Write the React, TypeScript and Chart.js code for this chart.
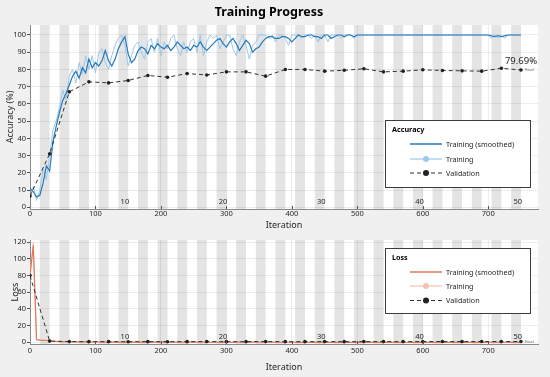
import React, { useEffect, useRef } from 'react';
import { Chart, registerables } from 'chart.js';

Chart.register(...registerables);

const FONT = '"Noto Sans", "DejaVu Sans", sans-serif';
const TEXT = '#262626';
const GRID = 'rgba(0,0,0,0.07)';
const AXIS = '#8a8a8a';
const STRIPE = '#e4e4e4';

const ITERS_PER_EPOCH = 15;
const NUM_EPOCHS = 50;
const TRAIN_STEP = 5;
const VAL_STEP = 30;
const X_MAX = 776;

const xTicks = [0, 100, 200, 300, 400, 500, 600, 700];
const accTicks = [0, 10, 20, 30, 40, 50, 60, 70, 80, 90, 100];
const lossTicks = [0, 20, 40, 60, 80, 100, 120];
const epochMarks = [10, 20, 30, 40, 50];
const finalAccuracyText = '79.69%';
const finalText = 'Final';

// accuracy, every 5 iterations from 0 to 750
const accSmoothed = [
  11, 9, 6, 7, 14, 24, 21, 38, 47, 55,
  62, 66, 71, 76, 79, 75, 81, 78, 86, 81,
  84, 82, 85, 91, 85, 82, 86, 92, 96, 99,
  89, 84, 86, 91, 93, 92, 89, 94, 92, 95,
  93, 92, 94, 91, 93, 96, 94, 92, 93, 91,
  94, 93, 96, 93, 91, 93, 95, 97, 98, 95,
  93, 96, 98, 95, 91, 94, 97, 95, 90, 92,
  93, 96, 98, 99, 99, 98, 98, 99, 99, 98,
  96, 98, 100, 99, 99, 100, 100, 99, 99, 98,
  100, 100, 98, 99, 100, 100, 99, 100, 100, 99,
  100, 100, 100, 100, 100, 100, 100, 100, 100, 100,
  100, 100, 100, 100, 100, 100, 100, 100, 100, 100,
  100, 100, 100, 100, 100, 100, 100, 100, 100, 100,
  100, 100, 100, 100, 100, 100, 100, 100, 100, 100,
  100, 99.5, 99, 99.6, 99, 99.5, 100, 100, 100, 100,
  100,
];

const accTraining = [
  6, 12, 4, 10, 22, 16, 30, 45, 50, 58,
  68, 62, 76, 80, 72, 84, 77, 88, 80, 88,
  78, 90, 92, 84, 80, 88, 94, 98, 100, 94,
  82, 88, 94, 96, 90, 86, 96, 98, 90, 98,
  88, 96, 92, 98, 100, 92, 88, 96, 90, 96,
  98, 90, 100, 88, 96, 100, 98, 100, 92, 96,
  100, 100, 92, 88, 96, 100, 94, 86, 94, 96,
  100, 100, 100, 98, 100, 96, 100, 100, 98, 94,
  100, 100, 100, 98, 100, 100, 98, 100, 96, 100,
  100, 96, 100, 100, 100, 98, 100, 100, 100, 98,
  100, 100, 100, 100, 100, 100, 100, 100, 100, 100,
  100, 100, 100, 100, 100, 100, 100, 100, 100, 100,
  100, 100, 100, 100, 100, 100, 100, 100, 100, 100,
  100, 100, 100, 100, 100, 100, 100, 100, 100, 100,
  100, 98, 100, 98, 100, 98, 100, 100, 100, 100,
  100,
];

// validation accuracy, every 30 iterations from 0 to 750
const accValidation = [
  6.5, 31, 67, 72.8, 72.2, 73.6, 76.5, 75.5, 77.6, 76.8,
  78.6, 78.6, 76.1, 80, 80, 79, 79.5, 80.4, 78.6, 79,
  79.8, 79.4, 79.2, 79, 80.7, 79.69,
];

// loss, every 5 iterations from 0 to 750
const lossSmoothed = [
  80, 116, 3, 2.6, 2.4, 2.2, 1.6, 1.3, 1.1, 0.9,
  0.8, 0.7, 0.7, 0.6, 0.6, 0.5, 0.5, 0.5, 0.4, 0.4,
  0.4, 0.4, 0.3, 0.3, 0.4, 0.3, 0.3, 0.2, 0.2, 0.3,
  0.3, 0.3, 0.2, 0.2, 0.2, 0.2, 0.2, 0.2, 0.2, 0.2,
  0.2, 0.2, 0.2, 0.2, 0.2, 0.1, 0.1, 0.2, 0.2, 0.2,
  0.2, 0.2, 0.1, 0.2, 0.2, 0.1, 0.1, 0.1, 0.1, 0.2,
  0.2, 0.1, 0.1, 0.1, 0.2, 0.1, 0.1, 0.2, 0.2, 0.1,
  0.1, 0.1, 0.1, 0.1, 0.1, 0.1, 0.1, 0.1, 0.1, 0.1,
  0.1, 0.1, 0.05, 0.05, 0.05, 0.05, 0.05, 0.05, 0.05, 0.05,
  0.05, 0.05, 0.05, 0.05, 0.05, 0.05, 0.05, 0.05, 0.05, 0.05,
  0.05, 0.05, 0.05, 0.05, 0.05, 0.05, 0.05, 0.05, 0.05, 0.05,
  0.05, 0.05, 0.05, 0.05, 0.05, 0.05, 0.05, 0.05, 0.05, 0.05,
  0.05, 0.05, 0.05, 0.05, 0.05, 0.05, 0.05, 0.05, 0.05, 0.05,
  0.05, 0.05, 0.05, 0.05, 0.05, 0.05, 0.05, 0.05, 0.05, 0.05,
  0.05, 0.1, 0.1, 0.1, 0.1, 0.1, 0.05, 0.05, 0.05, 0.05,
  0.05,
];

const lossTraining = [
  82, 120, 3.5, 2.8, 2.4, 2.6, 1.8, 1.0, 0.9, 1.2,
  0.7, 0.9, 0.5, 0.8, 0.4, 0.6, 0.7, 0.3, 0.5, 0.6,
  0.3, 0.5, 0.2, 0.4, 0.6, 0.2, 0.3, 0.1, 0.3, 0.4,
  0.5, 0.2, 0.1, 0.3, 0.2, 0.4, 0.1, 0.2, 0.3, 0.1,
  0.2, 0.3, 0.1, 0.2, 0.4, 0.1, 0.1, 0.3, 0.2, 0.1,
  0.3, 0.1, 0.1, 0.2, 0.3, 0.1, 0.1, 0.1, 0.2, 0.3,
  0.1, 0.1, 0.2, 0.1, 0.3, 0.1, 0.1, 0.2, 0.3, 0.1,
  0.1, 0.1, 0.1, 0.2, 0.1, 0.1, 0.1, 0.1, 0.2, 0.1,
  0.1, 0.1, 0.0, 0.1, 0.0, 0.1, 0.0, 0.0, 0.1, 0.0,
  0.0, 0.1, 0.0, 0.0, 0.0, 0.1, 0.0, 0.0, 0.0, 0.1,
  0.0, 0.0, 0.0, 0.0, 0.0, 0.0, 0.0, 0.0, 0.0, 0.0,
  0.0, 0.0, 0.0, 0.0, 0.0, 0.0, 0.0, 0.0, 0.0, 0.0,
  0.0, 0.0, 0.0, 0.0, 0.0, 0.0, 0.0, 0.0, 0.0, 0.0,
  0.0, 0.0, 0.0, 0.0, 0.0, 0.0, 0.0, 0.0, 0.0, 0.0,
  0.0, 0.2, 0.0, 0.2, 0.0, 0.2, 0.0, 0.0, 0.0, 0.0,
  0.0,
];

const lossValidation = [
  80, 1.5, 0.9, 0.8, 0.8, 0.7, 0.8, 0.7, 0.8, 0.9,
  0.8, 0.8, 0.9, 0.8, 0.8, 0.9, 0.8, 0.9, 0.9, 0.9,
  0.9, 1.0, 0.9, 1.0, 0.9, 1.0,
];

const toPoints = (vals: number[], step: number) => vals.map((y, i) => ({ x: i * step, y }));

function drawLegend(chart: any, o: any) {
  const { ctx, chartArea: a } = chart;
  const w = 145;
  const h = o.legendHeight;
  const x = Math.round(a.right - 8 - w);
  const y = Math.round(a.top + o.legendOffset);
  ctx.save();
  ctx.fillStyle = '#ffffff';
  ctx.fillRect(x, y, w, h);
  ctx.strokeStyle = '#3c3c3c';
  ctx.lineWidth = 1;
  ctx.strokeRect(x + 0.5, y + 0.5, w, h);
  ctx.fillStyle = '#000';
  ctx.textAlign = 'left';
  ctx.textBaseline = 'middle';
  ctx.font = `bold 7.2px ${FONT}`;
  ctx.fillText(o.legendTitle, x + 7, y + 10);
  const rows = o.legendRows;
  chart.data.datasets.forEach((ds: any, i: number) => {
    const ry = y + rows[i];
    ctx.strokeStyle = ds.borderColor;
    ctx.lineWidth = i === 0 ? 1.5 : 1.2;
    ctx.setLineDash(ds.borderDash || []);
    ctx.beginPath();
    ctx.moveTo(x + 25, ry);
    ctx.lineTo(x + 57, ry);
    ctx.stroke();
    ctx.setLineDash([]);
    const mr = o.legendMarkers[i];
    if (mr) {
      ctx.fillStyle = ds.pointBackgroundColor || ds.borderColor;
      ctx.beginPath();
      ctx.arc(x + 41, ry, mr, 0, Math.PI * 2);
      ctx.fill();
    }
    ctx.fillStyle = TEXT;
    ctx.font = `7.2px ${FONT}`;
    ctx.fillText(ds.label, x + 61, ry + 0.5);
  });
  ctx.restore();
}

const progressPlugin = {
  id: 'progress',
  beforeDraw(chart: any) {
    const { ctx, chartArea: a, scales } = chart;
    const xs = scales.x;
    ctx.save();
    ctx.fillStyle = '#ffffff';
    ctx.fillRect(a.left, a.top, a.right - a.left, a.bottom - a.top);
    ctx.fillStyle = STRIPE;
    for (let e = 2; e <= NUM_EPOCHS; e += 2) {
      const x0 = xs.getPixelForValue((e - 1) * ITERS_PER_EPOCH);
      const x1 = xs.getPixelForValue(e * ITERS_PER_EPOCH);
      ctx.fillRect(x0, a.top, x1 - x0, a.bottom - a.top);
    }
    ctx.restore();
  },
  afterDatasetsDraw(chart: any, _args: any, o: any) {
    const { ctx, chartArea: a, scales } = chart;
    const xs = scales.x;
    const ys = scales.y;
    ctx.save();
    ctx.strokeStyle = '#555';
    ctx.lineWidth = 1;
    xTicks.forEach((v) => {
      if (v === 0) return;
      const px = Math.round(xs.getPixelForValue(v)) + 0.5;
      ctx.beginPath();
      ctx.moveTo(px, a.bottom);
      ctx.lineTo(px, a.bottom - 3);
      ctx.stroke();
    });
    ctx.fillStyle = TEXT;
    ctx.font = `7.5px ${FONT}`;
    ctx.textAlign = 'right';
    ctx.textBaseline = 'alphabetic';
    epochMarks.forEach((e) => {
      const px = xs.getPixelForValue(e * ITERS_PER_EPOCH);
      ctx.fillText(String(e), px + 1, a.bottom - 5);
    });
    const vds = chart.data.datasets[2].data;
    const last = vds[vds.length - 1];
    const fx = xs.getPixelForValue(last.x);
    const fy = ys.getPixelForValue(last.y);
    ctx.fillStyle = '#666';
    ctx.font = `4px ${FONT}`;
    ctx.textAlign = 'left';
    ctx.textBaseline = 'middle';
    ctx.fillText(finalText, fx + 4, fy);
    if (o.finalValueText) {
      ctx.fillStyle = TEXT;
      ctx.font = `9.5px ${FONT}`;
      ctx.textAlign = 'center';
      ctx.textBaseline = 'alphabetic';
      ctx.fillText(o.finalValueText, fx, fy - 6);
    }
    ctx.restore();
  },
  afterDraw(chart: any, _args: any, o: any) {
    drawLegend(chart, o);
  },
};

function makeX(labelPad: number, height: number, titlePad: number) {
  return {
    type: 'linear',
    min: 0,
    max: X_MAX,
    afterBuildTicks: (s: any) => {
      s.ticks = xTicks.map((v) => ({ value: v }));
    },
    afterFit: (s: any) => {
      s.height = height;
    },
    ticks: { font: { family: FONT, size: 7.5 }, color: TEXT, padding: labelPad, maxRotation: 0, autoSkip: false },
    grid: { color: GRID, drawTicks: false },
    border: { color: AXIS, width: 1 },
    title: {
      display: true,
      text: 'Iteration',
      font: { family: FONT, size: 9 },
      color: TEXT,
      padding: { top: 0, bottom: titlePad },
    },
  };
}

function makeY(min: number, max: number, ticks: number[], title: string, titlePad: number) {
  return {
    type: 'linear',
    min,
    max,
    afterBuildTicks: (s: any) => {
      s.ticks = ticks.map((v) => ({ value: v }));
    },
    afterFit: (s: any) => {
      s.width = 30;
    },
    ticks: { font: { family: FONT, size: 7.5 }, color: TEXT, padding: 1 },
    grid: { color: GRID, tickLength: 3, tickColor: '#555', drawTicks: true },
    border: { color: AXIS, width: 1 },
    title: {
      display: true,
      text: title,
      font: { family: FONT, size: 9 },
      color: TEXT,
      padding: { top: titlePad, bottom: 0 },
    },
  };
}

function makeDatasets(smoothed: number[], raw: number[], val: number[], cSmooth: string, cRaw: string) {
  return [
    {
      label: 'Training (smoothed)',
      data: toPoints(smoothed, TRAIN_STEP),
      borderColor: cSmooth,
      backgroundColor: cSmooth,
      borderWidth: 1.2,
      pointRadius: 0,
      order: 1,
    },
    {
      label: 'Training',
      data: toPoints(raw, TRAIN_STEP),
      borderColor: cRaw,
      backgroundColor: cRaw,
      pointBackgroundColor: cRaw,
      borderWidth: 1,
      pointRadius: 0,
      order: 2,
    },
    {
      label: 'Validation',
      data: toPoints(val, VAL_STEP),
      borderColor: '#333333',
      backgroundColor: '#222222',
      pointBackgroundColor: '#222222',
      pointBorderWidth: 0,
      borderWidth: 1,
      borderDash: [4, 3],
      pointRadius: 1.8,
      order: 0,
    },
  ];
}

export default function App() {
  const topRef = useRef<HTMLCanvasElement>(null);
  const botRef = useRef<HTMLCanvasElement>(null);

  useEffect(() => {
    document.body.style.margin = '0';
    document.body.style.background = '#f0f0f0';

    const top = new Chart(topRef.current as HTMLCanvasElement, {
      type: 'line',
      data: { datasets: makeDatasets(accSmoothed, accTraining, accValidation, '#2479bd', '#9cc9ea') as any },
      options: {
        animation: false,
        responsive: true,
        maintainAspectRatio: false,
        events: [],
        layout: { padding: { left: 0, right: 12, top: 0, bottom: 0 } },
        scales: {
          x: makeX(0, 23, 1) as any,
          y: makeY(-1, 105.8, accTicks, 'Accuracy (%)', 4.6) as any,
        },
        plugins: {
          legend: { display: false },
          tooltip: { enabled: false },
          title: {
            display: true,
            text: 'Training Progress',
            color: '#000',
            font: { family: FONT, size: 12.5, weight: 'bold' },
            padding: { top: 5, bottom: 5 },
          },
          progress: {
            legendTitle: 'Accuracy',
            legendHeight: 67,
            legendOffset: 95,
            legendRows: [24, 39, 53],
            legendMarkers: [0, 3, 3],
            finalValueText: finalAccuracyText,
          },
        } as any,
      },
      plugins: [progressPlugin],
    });

    const bot = new Chart(botRef.current as HTMLCanvasElement, {
      type: 'line',
      data: { datasets: makeDatasets(lossSmoothed, lossTraining, lossValidation, '#e0785a', '#f5c2b2') as any },
      options: {
        animation: false,
        responsive: true,
        maintainAspectRatio: false,
        events: [],
        layout: { padding: { left: 0, right: 12, top: 8, bottom: 0 } },
        scales: {
          x: makeX(2, 33, 4.6) as any,
          y: makeY(-2, 122.7, lossTicks, 'Loss', 9.6) as any,
        },
        plugins: {
          legend: { display: false },
          tooltip: { enabled: false },
          progress: {
            legendTitle: 'Loss',
            legendHeight: 65,
            legendOffset: 8,
            legendRows: [24, 38, 52.5],
            legendMarkers: [0, 3, 3],
            finalValueText: '',
          },
        } as any,
      },
      plugins: [progressPlugin],
    });

    return () => {
      top.destroy();
      bot.destroy();
    };
  }, []);

  return (
    <div style={{ width: 550, height: 377, background: '#f0f0f0' }}>
      <div style={{ position: 'relative', width: 550, height: 232 }}>
        <canvas ref={topRef} style={{ display: 'block' }} />
      </div>
      <div style={{ position: 'relative', width: 550, height: 145 }}>
        <canvas ref={botRef} style={{ display: 'block' }} />
      </div>
    </div>
  );
}
